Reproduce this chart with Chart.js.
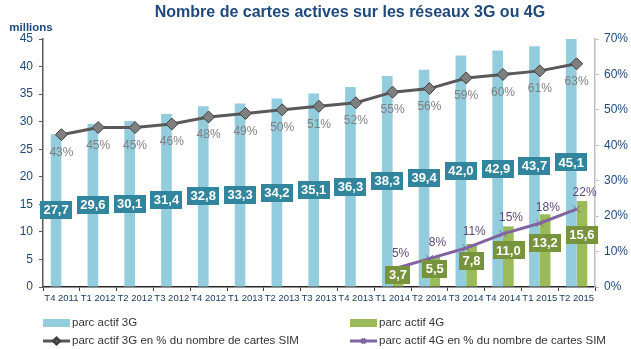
<!DOCTYPE html>
<html>
<head>
<meta charset="utf-8">
<script src="https://cdn.jsdelivr.net/npm/chart.js@4.4.1/dist/chart.umd.min.js"></script>
<style>
  html, body { margin: 0; padding: 0; background: #fff; }
  #wrap { width: 631px; height: 349px; position: relative; }
</style>
</head>
<body>
<div id="wrap"><canvas id="chart"></canvas></div>
<script>
// quarters
const categories = ['T4 2011', 'T1 2012', 'T2 2012', 'T3 2012', 'T4 2012', 'T1 2013', 'T2 2013', 'T3 2013',
  'T4 2013', 'T1 2014', 'T2 2014', 'T3 2014', 'T4 2014', 'T1 2015', 'T2 2015'];
// millions de cartes
const parc3G = [27.7, 29.6, 30.1, 31.4, 32.8, 33.3, 34.2, 35.1, 36.3, 38.3, 39.4, 42.0, 42.9, 43.7, 45.1];
const parc4G = [null, null, null, null, null, null, null, null, null, 3.7, 5.5, 7.8, 11.0, 13.2, 15.6];
// % du nombre de cartes SIM
const pct3G = [43, 45, 45, 46, 48, 49, 50, 51, 52, 55, 56, 59, 60, 61, 63];
const pct4G = [null, null, null, null, null, null, null, null, null, 5, 8, 11, 15, 18, 22];

const titleText = 'Nombre de cartes actives sur les réseaux 3G ou 4G';
const unitText = 'millions';

const axisBlue = '#1f497d';
const fmt = v => v.toFixed(1).replace('.', ',');

// labels on bars and points
const valueLabels = {
  id: 'valueLabels',
  afterDatasetsDraw(chart) {
    const ctx = chart.ctx;
    ctx.save();
    ctx.textAlign = 'center';
    ctx.textBaseline = 'middle';
    chart.data.datasets.forEach((ds, i) => {
      const meta = chart.getDatasetMeta(i);
      meta.data.forEach((el, j) => {
        const v = ds.data[j];
        if (v === null || v === undefined) return;
        if (ds.type === 'bar') {
          const frac = ds.labelPos;
          const cy = el.base + (el.y - el.base) * frac;
          const txt = fmt(v);
          ctx.font = 'bold 13px "Liberation Sans", Arial, sans-serif';
          const w = ctx.measureText(txt).width + 7;
          ctx.fillStyle = ds.labelBg;
          ctx.fillRect(Math.round(el.x - w / 2), Math.round(cy - 9), Math.round(w), 18);
          ctx.fillStyle = '#ffffff';
          ctx.fillText(txt, el.x, cy + 0.5);
        } else {
          ctx.font = '12px "Liberation Sans", Arial, sans-serif';
          ctx.fillStyle = ds.labelColor;
          ctx.fillText(v + '%', el.x + ds.labelDx, el.y + ds.labelDy);
        }
      });
    });
    ctx.restore();
  }
};

// title, unit and legend
const decorations = {
  id: 'decorations',
  afterDraw(chart) {
    const ctx = chart.ctx;
    ctx.save();
    ctx.textBaseline = 'middle';
    ctx.textAlign = 'center';
    ctx.fillStyle = axisBlue;
    ctx.font = 'bold 16px "Liberation Sans", Arial, sans-serif';
    ctx.fillText(titleText, 350, 13);
    ctx.font = 'bold 11.5px "Liberation Sans", Arial, sans-serif';
    ctx.fillText(unitText, 31, 28);

    const ds = chart.data.datasets;
    const items = [
      { d: ds[2], x: 43, y: 323 },
      { d: ds[3], x: 350, y: 323 },
      { d: ds[0], x: 43, y: 341 },
      { d: ds[1], x: 350, y: 341 }
    ];
    ctx.textAlign = 'left';
    ctx.font = '11.5px "Liberation Sans", Arial, sans-serif';
    items.forEach(it => {
      const d = it.d;
      if (d.type === 'bar') {
        ctx.fillStyle = d.backgroundColor;
        ctx.fillRect(it.x, it.y - 4, 27, 8);
      } else {
        ctx.strokeStyle = d.borderColor;
        ctx.lineWidth = 3;
        ctx.beginPath();
        ctx.moveTo(it.x, it.y);
        ctx.lineTo(it.x + 27, it.y);
        ctx.stroke();
        ctx.fillStyle = d.pointBackgroundColor;
        ctx.strokeStyle = d.pointBorderColor;
        Chart.helpers.drawPoint(ctx, { pointStyle: d.pointStyle, radius: 3, borderWidth: 1 }, it.x + 13.5, it.y);
      }
      ctx.fillStyle = '#333333';
      ctx.fillText(d.label, it.x + 29, it.y);
    });
    ctx.restore();
  }
};

new Chart(document.getElementById('chart'), {
  data: {
    labels: categories,
    datasets: [
      {
        type: 'line', label: 'parc actif 3G en % du nombre de cartes SIM', data: pct3G, yAxisID: 'y1', order: 0,
        borderColor: '#595959', borderWidth: 3, pointStyle: 'rectRot', pointRadius: 6,
        pointBackgroundColor: '#7f7f7f', pointBorderColor: '#404040', pointBorderWidth: 1,
        labelColor: '#7f7f7f', labelDx: 0, labelDy: 18
      },
      {
        type: 'line', label: 'parc actif 4G en % du nombre de cartes SIM', data: pct4G, yAxisID: 'y1', order: 0,
        borderColor: '#8064a2', borderWidth: 3, pointStyle: 'crossRot', pointRadius: 5,
        pointBackgroundColor: '#8064a2', pointBorderColor: '#8064a2', pointBorderWidth: 1,
        labelColor: '#5f497a', labelDx: 8, labelDy: -16
      },
      {
        type: 'bar', label: 'parc actif 3G', data: parc3G, yAxisID: 'y', order: 1,
        backgroundColor: '#93cddd', labelBg: '#31859c', labelPos: 0.5
      },
      {
        type: 'bar', label: 'parc actif 4G', data: parc4G, yAxisID: 'y', order: 1,
        backgroundColor: '#9bbb59', labelBg: '#77933c', labelPos: 0.6
      }
    ]
  },
  options: {
    responsive: true,
    maintainAspectRatio: false,
    animation: false,
    layout: { padding: { top: 39, left: 0, right: 0, bottom: 0 } },
    datasets: { bar: { categoryPercentage: 0.58, barPercentage: 1 } },
    plugins: { legend: { display: false }, title: { display: false }, tooltip: { enabled: false } },
    scales: {
      x: {
        grid: { drawOnChartArea: false, tickLength: 4, color: '#404040' },
        border: { color: '#262626', width: 1.5 },
        ticks: {
          autoSkip: false, maxRotation: 0, padding: 2, color: '#17375e',
          font: { family: '"Liberation Sans", Arial, sans-serif', size: 9.5 }
        },
        afterFit(s) { s.height = 62; }
      },
      y: {
        position: 'left', min: 0, max: 45,
        grid: { drawOnChartArea: false, tickLength: 4, color: '#595959' },
        border: { color: '#595959', width: 1.5 },
        ticks: {
          stepSize: 5, padding: 6, color: axisBlue,
          font: { family: '"Liberation Sans", Arial, sans-serif', size: 12 }
        },
        afterFit(s) { s.width = 43; }
      },
      y1: {
        position: 'right', min: 0, max: 70,
        grid: { drawOnChartArea: false, tickLength: 4, color: '#bfbfbf' },
        border: { color: '#bfbfbf', width: 1.5 },
        ticks: {
          stepSize: 10, padding: 5, color: axisBlue, callback: v => v + '%',
          font: { family: '"Liberation Sans", Arial, sans-serif', size: 12 }
        },
        afterFit(s) { s.width = 36; }
      }
    }
  },
  plugins: [valueLabels, decorations]
});
</script>
</body>
</html>
